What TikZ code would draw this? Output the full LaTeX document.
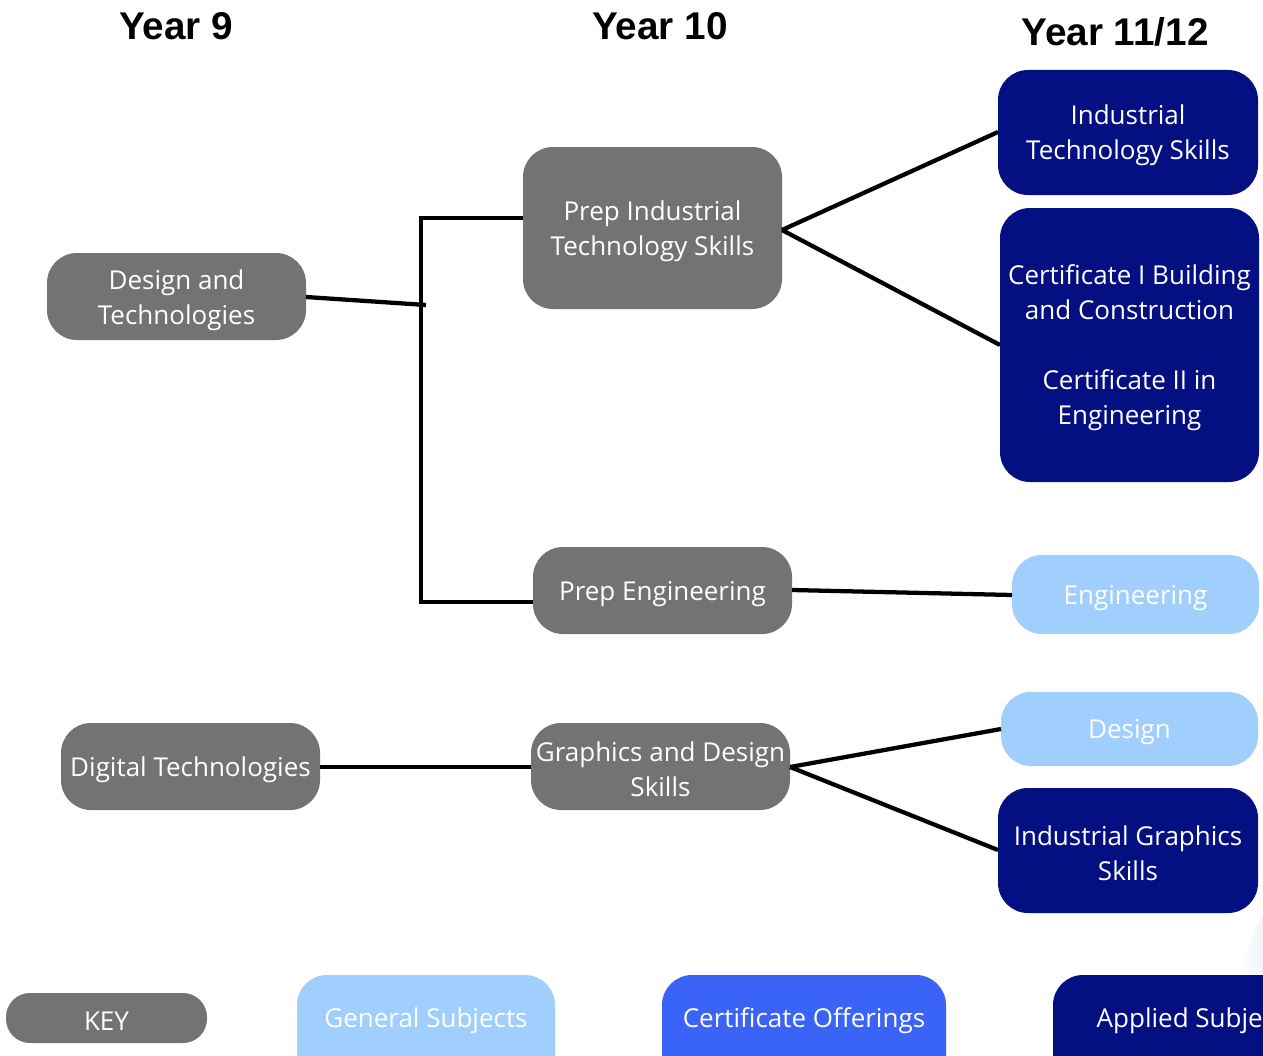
\documentclass[tikz,border=0pt]{standalone}
\usepackage{fontspec}
\setmainfont{Open Sans}
\newfontfamily\headfont{Liberation Sans}
\definecolor{boxgray}{RGB}{115,115,115}
\definecolor{navy}{RGB}{4,16,130}
\definecolor{paleblue}{RGB}{160,206,253}
\definecolor{brightblue}{RGB}{58,100,248}
\definecolor{shade}{RGB}{243,244,248}
\begin{document}
\begin{tikzpicture}[x=0.75pt,y=-0.75pt,
  txt/.style={font=\fontsize{19.5}{26.25}\selectfont, text=white, align=center},
  card/.style={rounded corners=22.5pt},
  link/.style={line width=3.2pt, black},
  head/.style={font=\headfont\bfseries\fontsize{29}{32}\selectfont, text=black}]
\useasboundingbox (0,0) rectangle (1263,1056);
\fill[white] (0,0) rectangle (1263,1056);
% faint shading in the lower right corner
\shade[left color=white, right color=shade] (1263,912) -- (1236,975) -- (1263,975) -- cycle;

% column headings
\node[head] (h9) at (176,26) {Year 9};
\node[head] (h10) at (660,26) {Year 10};
\node[head] (h11) at (1115,32) {Year 11/12};

% Year 9
\fill[boxgray,card] (47,253) rectangle (306,340);
\node[txt] (dt) at (176.5,300) {Design and\\Technologies};
\fill[boxgray,card] (61,723) rectangle (320,810);
\node[txt] (dig) at (190.5,770) {Digital Technologies};

% Year 10
\fill[boxgray,card] (523,147) rectangle (782,309);
\node[txt] (pits) at (652.5,231.5) {Prep Industrial\\Technology Skills};
\fill[boxgray,card] (533,547) rectangle (792,634);
\node[txt] (pe) at (662.5,594.5) {Prep Engineering};
\fill[boxgray,card] (531,723) rectangle (790,810);
\node[txt] (gds) at (660.5,769.5) {Graphics and Design\\Skills};

% Year 11/12
\fill[navy,card] (998,70) rectangle (1258,195);
\node[txt] (its) at (1128,135.5) {Industrial\\Technology Skills};
\fill[navy,card] (1000,208) rectangle (1259,482);
\node[txt] (cert) at (1129.5,347.5) {Certificate I Building\\and Construction\\[26pt]Certificate II in\\Engineering};
\fill[paleblue,card] (1012,555) rectangle (1259,634);
\node[txt] (eng) at (1135.5,598.5) {Engineering};
\fill[paleblue,card] (1001,692) rectangle (1258,766);
\node[txt] (des) at (1129.5,732.5) {Design};
\fill[navy,card] (998,788) rectangle (1258,913);
\node[txt] (igs) at (1128,853) {Industrial Graphics\\Skills};

% key
\fill[boxgray,rounded corners=18pt] (6,993) rectangle (207,1043);
\node[txt] (key) at (106.5,1021) {KEY};
\fill[paleblue,card] (297,975) rectangle (555,1090);
\node[txt] (gen) at (426,1021) {General Subjects};
\fill[brightblue,card] (662,975) rectangle (946,1090);
\node[txt] (co) at (804,1021) {Certificate Offerings};
\fill[navy,card] (1053,975) rectangle (1320,1090);
\node[txt,anchor=west] (as) at (1092,1021) {Applied Subjects};

% attachment points on the box edges
\coordinate (dtR) at (306,297);
\coordinate (digR) at (320,767);
\coordinate (pitsL) at (523,218);
\coordinate (pitsR) at (782,230);
\coordinate (peL) at (533,602);
\coordinate (peR) at (792,590);
\coordinate (gdsL) at (531,767);
\coordinate (gdsR) at (790,767);
\coordinate (itsL) at (998,132);
\coordinate (certL) at (1000,345);
\coordinate (engL) at (1012,595);
\coordinate (desL) at (1001,729);
\coordinate (igsL) at (998,850);
% the bracket joining Year 9 to Year 10
\coordinate (jn) at (426,305);
\coordinate (top) at (421,218);
\coordinate (bot) at (421,602);

% connectors
\draw[link] (dtR) -- (jn);
\draw[link] (pitsL) -- (top) -- (bot) -- (peL);
\draw[link] (pitsR) -- (itsL);
\draw[link] (pitsR) -- (certL);
\draw[link] (peR) -- (engL);
\draw[link] (digR) -- (gdsL);
\draw[link] (gdsR) -- (desL);
\draw[link] (gdsR) -- (igsL);
\end{tikzpicture}
\end{document}
